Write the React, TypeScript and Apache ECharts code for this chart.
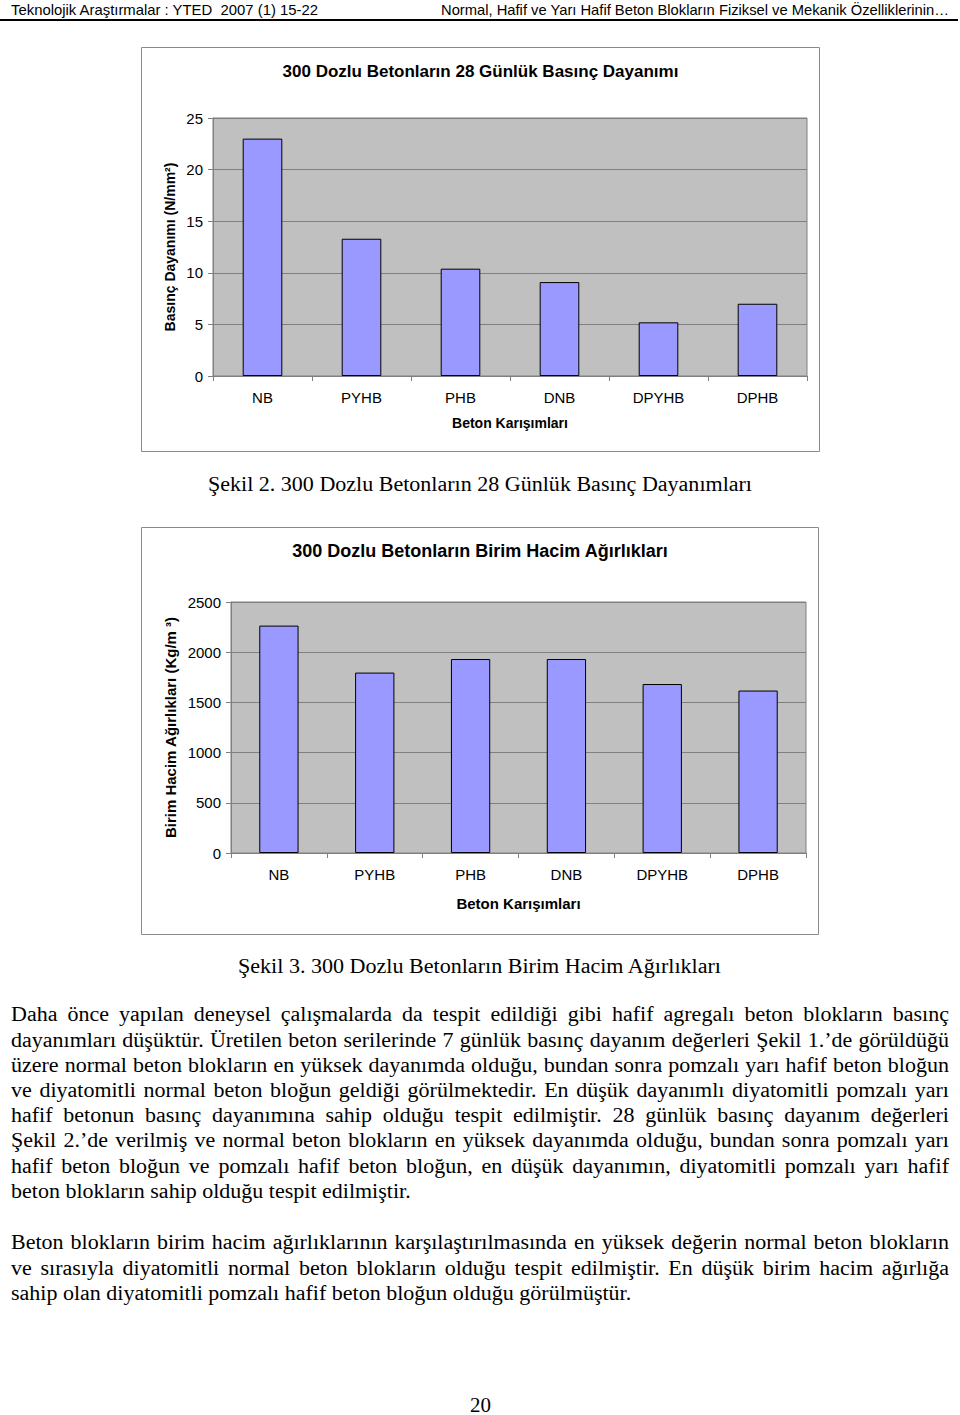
import React, { useEffect, useLayoutEffect, useRef } from "react";
import * as echarts from "echarts";

const categories = ["NB", "PYHB", "PHB", "DNB", "DPYHB", "DPHB"];
const strength28 = [23.0, 13.3, 10.4, 9.1, 5.2, 7.0];
const unitWeight = [2265, 1797, 1932, 1932, 1683, 1618];
const strengthAxis = { min: 0, max: 25, interval: 5 };
const weightAxis = { min: 0, max: 2500, interval: 500 };

const chart1Title = "300 Dozlu Betonların 28 Günlük Basınç Dayanımı";
const chart1YName = "Basınç Dayanımı (N/mm²)";
const chart2Title = "300 Dozlu Betonların Birim Hacim Ağırlıkları";
const chart2YName = "Birim Hacim Ağırlıkları (Kg/m ³)";
const xName = "Beton Karışımları";

const headerLeft = "Teknolojik Araştırmalar : YTED  2007 (1) 15-22";
const headerRight = "Normal, Hafif ve Yarı Hafif Beton Blokların Fiziksel ve Mekanik Özelliklerinin…";
const caption2 = "Şekil 2. 300 Dozlu Betonların 28 Günlük Basınç Dayanımları";
const caption3 = "Şekil 3. 300 Dozlu Betonların Birim Hacim Ağırlıkları";

const para1 = [
  "Daha önce yapılan deneysel çalışmalarda da tespit edildiği gibi hafif agregalı beton blokların basınç",
  "dayanımları düşüktür. Üretilen beton serilerinde 7 günlük basınç dayanım değerleri Şekil 1.’de görüldüğü",
  "üzere normal beton blokların en yüksek dayanımda olduğu, bundan sonra pomzalı yarı hafif beton bloğun",
  "ve diyatomitli normal beton bloğun geldiği görülmektedir. En düşük dayanımlı diyatomitli pomzalı yarı",
  "hafif betonun basınç dayanımına sahip olduğu tespit edilmiştir. 28 günlük basınç dayanım değerleri",
  "Şekil 2.’de verilmiş ve normal beton blokların en yüksek dayanımda olduğu, bundan sonra pomzalı yarı",
  "hafif beton bloğun ve pomzalı hafif beton bloğun, en düşük dayanımın, diyatomitli pomzalı yarı hafif",
  "beton blokların sahip olduğu tespit edilmiştir.",
];
const para2 = [
  "Beton blokların birim hacim ağırlıklarının karşılaştırılmasında en yüksek değerin normal beton blokların",
  "ve sırasıyla diyatomitli normal beton blokların olduğu tespit edilmiştir. En düşük birim hacim ağırlığa",
  "sahip olan diyatomitli pomzalı hafif beton bloğun olduğu görülmüştür.",
];

const SANS = "'Liberation Sans', Arial, sans-serif";
const SERIF = "'Liberation Serif', 'Times New Roman', serif";

type ChartCfg = {
  width: number;
  height: number;
  title: string;
  titleSize: number;
  yName: string;
  yNameSize: number;
  xNameSize: number;
  data: number[];
  axis: { min: number; max: number; interval: number };
  grid: { left: number; top: number; width: number; height: number };
  barWidth: string;
  yNameGap: number;
  xNameGap: number;
};

function buildOption(c: ChartCfg) {
  return {
    animation: false,
    textStyle: { fontFamily: SANS },
    grid: {
      left: c.grid.left,
      top: c.grid.top,
      width: c.grid.width,
      height: c.grid.height,
      show: true,
      backgroundColor: "#C0C0C0",
      borderColor: "#808080",
      borderWidth: 1,
      containLabel: false,
    },
    xAxis: {
      type: "category",
      data: categories,
      name: xName,
      nameLocation: "middle",
      nameGap: c.xNameGap,
      nameMoveOverlap: false,
      nameTextStyle: { fontSize: c.xNameSize, fontWeight: "bold", color: "#000", fontFamily: SANS },
      axisLine: { show: true, lineStyle: { color: "#808080", width: 1 } },
      axisTick: { show: true, length: 5, lineStyle: { color: "#808080" } },
      axisLabel: { color: "#000", fontSize: 15, margin: 14, fontFamily: SANS },
      splitLine: { show: false },
    },
    yAxis: {
      type: "value",
      min: c.axis.min,
      max: c.axis.max,
      interval: c.axis.interval,
      name: c.yName,
      nameLocation: "middle",
      nameGap: c.yNameGap,
      nameMoveOverlap: false,
      nameTextStyle: { fontSize: c.yNameSize, fontWeight: "bold", color: "#000", fontFamily: SANS },
      axisLine: { show: true, lineStyle: { color: "#808080", width: 1 } },
      axisTick: { show: true, length: 5, lineStyle: { color: "#808080" } },
      axisLabel: {
        color: "#000",
        fontSize: 15,
        margin: 10,
        fontFamily: SANS,
        formatter: (v: number) => String(v),
      },
      splitLine: { show: true, lineStyle: { color: "#808080", width: 1 } },
    },
    series: [
      {
        type: "bar",
        data: c.data,
        barWidth: c.barWidth,
        itemStyle: { color: "#9999FF", borderColor: "#000000", borderWidth: 1 },
      },
    ],
    graphic: [
      {
        type: "rect",
        silent: true,
        z: -10,
        shape: { x: 0.5, y: 0.5, width: c.width - 1, height: c.height - 1 },
        style: { fill: "#ffffff", stroke: "#8a8a8a", lineWidth: 1 },
      },
      {
        type: "text",
        x: c.width / 2,
        y: 24,
        style: {
          text: c.title,
          fontSize: c.titleSize,
          fontWeight: "bold",
          fontFamily: SANS,
          fill: "#000",
          align: "center",
          verticalAlign: "middle",
        },
      },
    ],
  };
}

function BarChart({ cfg, left, top }: { cfg: ChartCfg; left: number; top: number }) {
  const ref = useRef<HTMLDivElement>(null);
  useEffect(() => {
    if (!ref.current) return;
    const chart = echarts.init(ref.current, undefined, { renderer: "svg" });
    chart.setOption(buildOption(cfg));
    return () => chart.dispose();
  }, []);
  return (
    <div
      ref={ref}
      style={{ position: "absolute", left, top, width: cfg.width, height: cfg.height }}
    />
  );
}

function FitText({
  x,
  cy,
  w,
  size,
  family,
  lh,
  children,
}: {
  x: number;
  cy: number;
  w: number;
  size: number;
  family: string;
  lh: number;
  children: React.ReactNode;
}) {
  const ref = useRef<HTMLSpanElement>(null);
  useLayoutEffect(() => {
    const el = ref.current;
    if (!el) return;
    el.style.transform = "none";
    const nat = el.getBoundingClientRect().width;
    if (nat > 0) el.style.transform = `scaleX(${w / nat})`;
  }, []);
  return (
    <span
      ref={ref}
      style={{
        position: "absolute",
        left: x,
        top: cy - lh / 2,
        fontSize: size,
        lineHeight: `${lh}px`,
        fontFamily: family,
        whiteSpace: "pre",
        transformOrigin: "0 0",
        display: "inline-block",
        color: "#000",
      }}
    >
      {children}
    </span>
  );
}

const LH = 25.2;
const BODY_SIZE = 20;
const BODY_SCALE = 1.1;

function JustLine({ text, cy, last }: { text: string; cy: number; last: boolean }) {
  return (
    <div
      style={{
        position: "absolute",
        left: 11,
        top: cy - LH / 2,
        width: 938 / BODY_SCALE,
        fontSize: BODY_SIZE,
        lineHeight: `${LH}px`,
        fontFamily: SERIF,
        textAlign: last ? "left" : "justify",
        textAlignLast: last ? "left" : "justify",
        transform: `scaleX(${BODY_SCALE})`,
        transformOrigin: "0 0",
        color: "#000",
      }}
    >
      {text}
    </div>
  );
}

const chart1: ChartCfg = {
  width: 679,
  height: 405,
  title: chart1Title,
  titleSize: 17,
  yName: chart1YName,
  yNameSize: 14,
  xNameSize: 14,
  data: strength28,
  axis: strengthAxis,
  grid: { left: 72, top: 71, width: 594, height: 258 },
  barWidth: "40%",
  yNameGap: 36,
  xNameGap: 40,
};

const chart2: ChartCfg = {
  width: 678,
  height: 408,
  title: chart2Title,
  titleSize: 18,
  yName: chart2YName,
  yNameSize: 15,
  xNameSize: 15,
  data: unitWeight,
  axis: weightAxis,
  grid: { left: 90, top: 75, width: 575, height: 251 },
  barWidth: "41%",
  yNameGap: 53,
  xNameGap: 43,
};

export default function App() {
  const p1Start = 1015;
  const p2Start = 1243;
  return (
    <div
      style={{
        position: "absolute",
        left: 0,
        top: 0,
        width: 960,
        height: 1415,
        background: "#fff",
        overflow: "hidden",
      }}
    >
      <FitText x={11} cy={10} w={307} size={15} family={SANS} lh={18}>
        {headerLeft}
      </FitText>
      <FitText x={441} cy={10} w={508} size={15} family={SANS} lh={18}>
        {headerRight}
      </FitText>
      <div
        style={{ position: "absolute", left: 0, top: 19, width: 958, height: 1.5, background: "#000" }}
      />
      <BarChart cfg={chart1} left={141} top={47} />
      <FitText x={208} cy={485} w={544} size={20} family={SERIF} lh={LH}>
        {caption2}
      </FitText>
      <BarChart cfg={chart2} left={141} top={527} />
      <FitText x={238} cy={967} w={483} size={20} family={SERIF} lh={LH}>
        {caption3}
      </FitText>
      {para1.map((t, i) => (
        <JustLine key={"a" + i} text={t} cy={p1Start + i * LH} last={i === para1.length - 1} />
      ))}
      {para2.map((t, i) => (
        <JustLine key={"b" + i} text={t} cy={p2Start + i * LH} last={i === para2.length - 1} />
      ))}
      <FitText x={470} cy={1406} w={21} size={20} family={SERIF} lh={LH}>
        20
      </FitText>
    </div>
  );
}
